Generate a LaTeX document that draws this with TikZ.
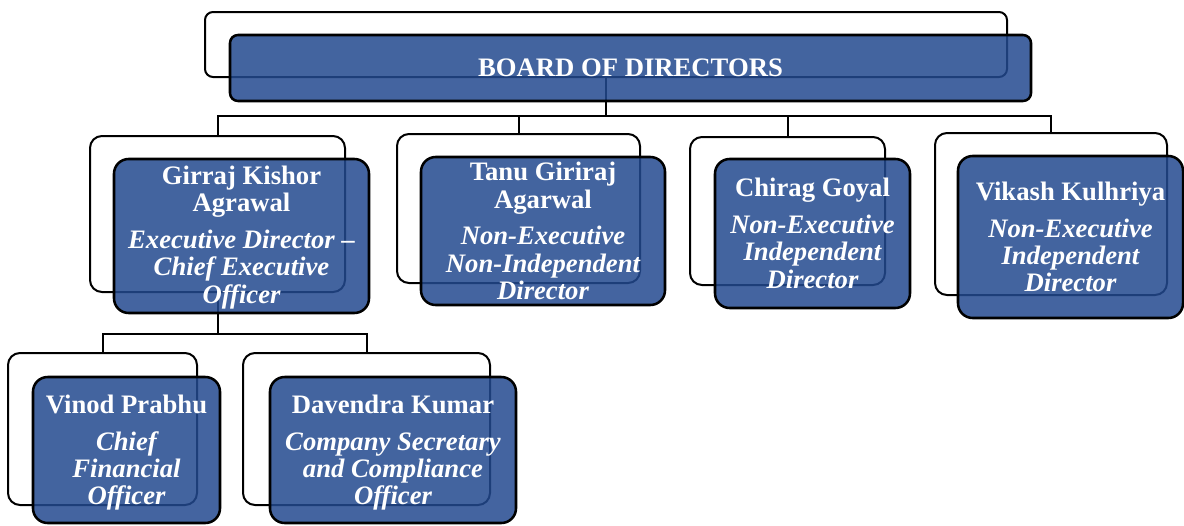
\documentclass[tikz,border=0pt]{standalone}
\usepackage{fontspec}
\setmainfont{Liberation Serif}
\definecolor{boxblue}{RGB}{35,73,143}
\tikzset{
  backbox/.style={draw=black, line width=1.5pt, fill=white, rounded corners=9pt, inner sep=0pt},
  bluebox/.style={draw=black, line width=1.9pt, fill=boxblue, fill opacity=0.85, draw opacity=1, rounded corners=11pt, inner sep=0pt},
  boardback/.style={backbox, rounded corners=6pt},
  boardblue/.style={bluebox, rounded corners=6pt},
  txt/.style={text=white, align=center, font=\fontsize{20}{20.5}\selectfont\bfseries, inner sep=0pt},
  conn/.style={draw=black, line width=1.5pt},
}
\newcommand\orgbox[6]{%
  \node[#6, minimum width={(#4-#2)*0.75pt}, minimum height={(#5-#3)*0.75pt}] (#1) at ({(#2+#4)/2},{(#3+#5)/2}) {};}
\newcommand\rolefont{\itshape}
\begin{document}
\begin{tikzpicture}[x=0.75pt, y=-0.75pt]
\useasboundingbox (0,0) rectangle (1184,525);
% back boxes
\orgbox{bback}{205}{12}{1007}{77}{boardback}
\orgbox{gback}{90}{136}{345}{292}{backbox}
\orgbox{tback}{397}{134}{640}{283}{backbox}
\orgbox{cback}{690}{137}{885}{285}{backbox}
\orgbox{vback}{935}{133}{1167}{295}{backbox}
\orgbox{pback}{8}{353}{197}{505}{backbox}
\orgbox{dback}{243}{353}{490}{505}{backbox}
% connectors
\coordinate (bus1) at (0,116);
\coordinate (bus2) at (0,334);
\draw[conn] (bback.south) -- (bback.south |- bus1) -| (gback.north);
\draw[conn] (bback.south |- bus1) -| (tback.north);
\draw[conn] (bback.south |- bus1) -| (cback.north);
\draw[conn] (bback.south |- bus1) -| (vback.north);
\draw[conn] (gback.south) -- (gback.south |- bus2) -| (pback.north);
\draw[conn] (gback.south |- bus2) -| (dback.north);
% front boxes
\orgbox{board}{230}{35}{1031}{101}{boardblue}
\orgbox{g}{114}{159}{369}{313}{bluebox}
\orgbox{t}{421}{157}{665}{305}{bluebox}
\orgbox{c}{715}{159}{910}{308}{bluebox}
\orgbox{v}{958}{156}{1183}{318}{bluebox}
\orgbox{p}{33}{377}{220}{523}{bluebox}
\orgbox{d}{270}{377}{516}{523}{bluebox}
% texts
\node[txt] (boardt) at (board) {BOARD OF DIRECTORS};
\node[txt] (gt) at ([yshift=-1pt]g.center) {Girraj Kishor\\Agrawal\\[7pt]\rolefont Executive Director –\\\rolefont Chief Executive\\\rolefont Officer};
\node[txt] (tt) at (t) {Tanu Giriraj\\Agarwal\\[7pt]\rolefont Non-Executive\\\rolefont Non-Independent\\\rolefont Director};
\node[txt] (ct) at (c) {Chirag Goyal\\[7pt]\rolefont Non-Executive\\\rolefont Independent\\\rolefont Director};
\node[txt] (vt) at (v) {Vikash Kulhriya\\[7pt]\rolefont Non-Executive\\\rolefont Independent\\\rolefont Director};
\node[txt] (pt) at ([yshift=-2pt]p.center) {Vinod Prabhu\\[7pt]\rolefont Chief\\\rolefont Financial\\\rolefont Officer};
\node[txt] (dt) at ([yshift=-2pt]d.center) {Davendra Kumar\\[7pt]\rolefont Company Secretary\\\rolefont and Compliance\\\rolefont Officer};
\end{tikzpicture}
\end{document}
